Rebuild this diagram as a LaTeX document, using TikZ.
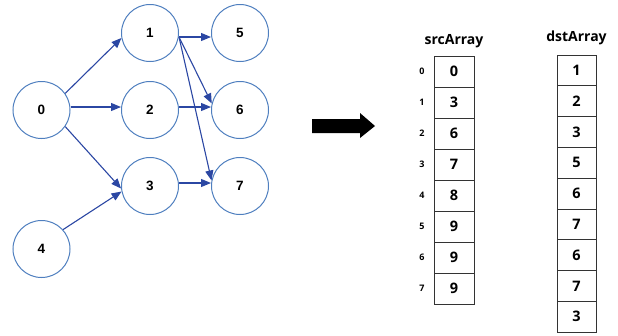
\documentclass[tikz,border=0pt]{standalone}
\usepackage{fontspec}
\setmainfont{Liberation Sans}
\newfontfamily\arrfont{Open Sans}
\usetikzlibrary{arrows.meta}
\definecolor{circ}{HTML}{4F7FBF}
\definecolor{edge}{HTML}{2B47A3}
\begin{document}
\begin{tikzpicture}[x=1pt,y=-1pt,
  vtx/.style={circle,draw=circ,line width=1pt,minimum size=57pt,inner sep=0pt,font=\fontsize{13.5}{14}\selectfont\bfseries},
  edg/.style={draw=edge,line width=1.1pt,-{Triangle[length=10pt,width=8pt]}},
  cell/.style={draw=black!80,line width=0.7pt,minimum width=40pt,minimum height=31pt,inner sep=0pt,font=\arrfont\fontsize{14.5}{15}\selectfont\bfseries},
  idx/.style={font=\arrfont\fontsize{9}{10}\selectfont\bfseries},
  ttl/.style={font=\arrfont\fontsize{14}{15}\selectfont\bfseries}]
\useasboundingbox (0,0) rectangle (618,335);
% graph
\node[vtx] (n0) at (41.5,110) {0};
\node[vtx] (n1) at (150,33) {1};
\node[vtx] (n2) at (150,110) {2};
\node[vtx] (n3) at (150,186) {3};
\node[vtx] (n4) at (41.5,249) {4};
\node[vtx] (n5) at (240,33) {5};
\node[vtx] (n6) at (240,110) {6};
\node[vtx] (n7) at (240,186) {7};
\draw[edg] (n0.35) -- (n1.190);
\draw[edg] ([yshift=3pt]n0.east) -- ([yshift=3pt]n2.west);
\draw[edg] (n0.-35) -- (n3.185);
\draw[edg] (n4.42) -- (n3.191);
\coordinate (p1) at ([yshift=-4pt]n1.east);
\draw[edg] (p1) -- ([yshift=-4pt]n5.west);
\draw[edg] (p1) -- (n6.167);
\draw[edg] (p1) -- (n7.169);
\draw[edg] ([yshift=3pt]n2.east) -- ([yshift=3pt]n6.west);
\draw[edg] ([yshift=3pt]n3.east) -- ([yshift=3pt]n7.west);
% big arrow
\fill[black] (312,119) -- (360,119) -- (360,113) -- (375,126) -- (360,138) -- (360,133) -- (312,133) -- cycle;
% srcArray
\node[ttl] (st) at (454,41) {srcArray};
\foreach \v [count=\i from 0] in {0,3,6,7,8,9,9,9} {
  \node[cell] (s\i) at (454,{71.5+31*\i}) {\v};
  \node[idx] (si\i) at (422,{71.5+31*\i}) {\i};
}
% dstArray
\node[ttl] (dt) at (576.5,38) {dstArray};
\foreach \v [count=\i from 0] in {1,2,3,5,6,7,6,7,3} {
  \node[cell,minimum width=39pt,minimum height=30.8pt] (d\i) at (576.5,{70.4+30.8*\i}) {\v};
}
\end{tikzpicture}
\end{document}
